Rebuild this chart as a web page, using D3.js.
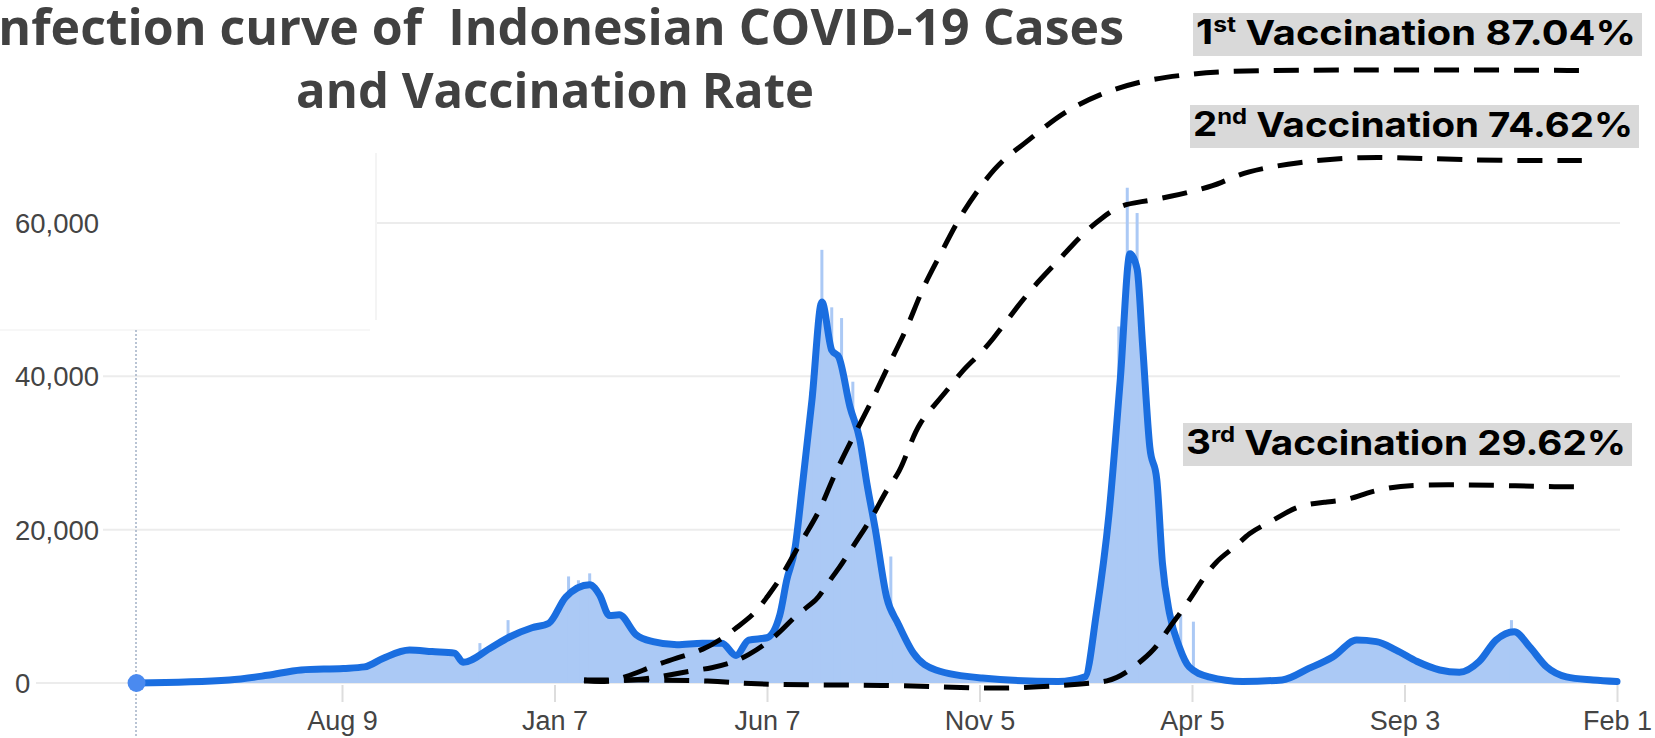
<!DOCTYPE html>
<html><head><meta charset="utf-8">
<script src="https://cdn.jsdelivr.net/npm/d3@7"></script>
<style>
html,body{margin:0;padding:0;background:#fff;overflow:hidden}
svg{display:block}
</style></head><body>
<svg id="chart" width="1655" height="738"></svg>
<script>
// Daily confirmed cases in Indonesia, 7-day average
const caseDates = ["2020-03-16","2020-05-21","2020-06-17","2020-07-11","2020-08-10","2020-08-25","2020-09-07","2020-09-26","2020-10-12","2020-10-28","2020-11-03","2020-11-22","2020-12-06","2020-12-22","2021-01-03","2021-01-15","2021-02-01","2021-02-08","2021-02-15","2021-02-22","2021-03-06","2021-03-18","2021-04-04","2021-04-22","2021-05-06","2021-05-16","2021-05-25","2021-06-07","2021-06-16","2021-06-21","2021-06-27","2021-07-02","2021-07-09","2021-07-16","2021-07-23","2021-07-28","2021-08-05","2021-08-12","2021-08-17","2021-08-23","2021-08-31","2021-09-08","2021-09-19","2021-10-05","2021-11-07","2021-12-31","2022-01-19","2022-01-27","2022-02-05","2022-02-13","2022-02-20","2022-02-25","2022-03-01","2022-03-06","2022-03-11","2022-03-15","2022-03-20","2022-03-27","2022-04-03","2022-04-17","2022-05-11","2022-06-08","2022-06-27","2022-07-14","2022-07-31","2022-08-14","2022-08-28","2022-09-12","2022-09-28","2022-10-12","2022-10-26","2022-11-07","2022-11-20","2022-12-01","2022-12-13","2022-12-27","2023-01-15","2023-02-01"];
const caseAvg = [0,400,1000,1700,1900,2100,3200,4300,4100,3900,2700,4500,6000,7200,7800,11200,12800,11500,8800,8900,6300,5400,5000,5200,5200,3600,5600,5900,8800,13400,17700,25500,37000,49700,43400,42500,36000,31700,26000,20000,11200,7800,3900,1700,650,200,800,9000,22000,39500,56000,54000,43800,30800,26500,15600,9100,4700,2100,800,200,400,1900,3400,5600,5400,4300,2800,1700,1400,2800,5600,6700,4700,2100,800,400,200];

// Single-day reports standing above the average
const spikeDates = ["2020-11-15","2020-12-05","2021-01-17","2021-01-24","2021-02-01","2021-07-08","2021-07-16","2021-07-23","2021-07-30","2021-08-07","2021-08-25","2021-09-03","2022-02-12","2022-02-18","2022-02-25","2022-03-28","2022-04-06","2022-11-18"];
const spikeValues = [5200,8200,13900,13400,14300,38000,56500,49000,47600,39300,19000,16500,46500,64600,61300,8900,8000,8200];

// Cumulative vaccination coverage, % of target population
const dose1Dates = ["2021-01-28","2021-02-11","2021-02-27","2021-03-13","2021-03-26","2021-04-11","2021-04-22","2021-05-05","2021-05-17","2021-05-30","2021-06-07","2021-06-16","2021-06-25","2021-07-05","2021-07-15","2021-07-23","2021-08-06","2021-08-21","2021-09-02","2021-09-15","2021-09-25","2021-10-09","2021-10-23","2021-11-17","2021-12-03","2021-12-21","2022-01-05","2022-01-28","2022-02-27","2022-03-28","2022-04-27","2022-06-20","2022-08-30","2022-11-09","2023-01-07"];
const dose1Pct = [2.98,2.57,3.39,4.5,5.46,6.43,7.12,8.5,10.29,12.22,14.43,16.77,19.94,23.25,26.46,30.56,36.1,41.6,46.7,51.6,56.9,61.9,67.4,74.1,76.35,79.2,81.4,83.7,85.6,86.4,86.96,87.1,87.1,87.1,87.04];

const dose2Dates = ["2021-01-28","2021-03-01","2021-03-23","2021-04-13","2021-04-29","2021-05-13","2021-05-25","2021-06-07","2021-06-18","2021-06-29","2021-07-13","2021-07-18","2021-07-29","2021-08-04","2021-08-15","2021-08-23","2021-09-01","2021-09-09","2021-09-16","2021-09-23","2021-10-04","2021-10-15","2021-10-24","2021-11-03","2021-11-14","2021-11-30","2021-12-14","2021-12-30","2022-01-10","2022-01-22","2022-01-31","2022-02-13","2022-02-27","2022-03-20","2022-04-10","2022-04-26","2022-05-12","2022-06-19","2022-08-03","2022-09-17","2022-11-09","2023-01-07"];
const dose2Pct = [2.84,2.84,3.39,4.22,4.63,5.32,6.43,8.08,9.88,12.22,14.0,15.8,18.6,20.5,23.7,26.2,29.6,31.5,35.1,38.4,40.9,43.4,45.7,47.5,49.8,54.0,57.4,60.6,63.0,65.3,66.7,68.5,68.9,69.6,70.6,71.5,73.1,74.4,75.2,74.9,74.6,74.62];

const dose3Dates = ["2021-01-28","2021-03-15","2021-04-29","2021-05-25","2021-06-30","2021-09-09","2021-11-12","2021-12-18","2022-01-15","2022-02-05","2022-02-17","2022-03-01","2022-03-11","2022-03-20","2022-03-31","2022-04-10","2022-04-22","2022-05-06","2022-05-15","2022-05-29","2022-06-10","2022-06-21","2022-07-08","2022-07-25","2022-08-07","2022-08-23","2022-09-07","2022-10-21","2022-11-21","2022-12-20","2023-01-08"];
const dose3Pct = [2.98,2.98,2.9,2.43,2.29,2.29,1.74,2.01,2.43,2.7,3.94,5.74,7.53,10.29,13.04,16.1,19.5,21.3,23.25,24.6,25.95,27.1,27.5,27.8,28.8,29.5,29.9,29.9,29.75,29.62,29.62];

const doseOrdinals = ["1", "2", "3"];
const doseSuffixes = ["st", "nd", "rd"];

const yTickValues = [0, 20000, 40000, 60000];
const xTickDates = ["2020-08-09","2021-01-07","2021-06-07","2021-11-05","2022-04-05","2022-09-03","2023-02-01"];
const xTickLabels = ["Aug 9","Jan 7","Jun 7","Nov 5","Apr 5","Sep 3","Feb 1"];
const titleLines = ["Infection curve of  Indonesian COVID-19 Cases", "and Vaccination Rate"];

const parse = d3.utcParse("%Y-%m-%d");
const svg = d3.select("#chart");

const x = d3.scaleUtc()
  .domain([parse("2020-08-09"), parse("2023-02-01")])
  .range([342, 1617]);
const y = d3.scaleLinear().domain([0, 60000]).range([683, 223]);
const yVacc = d3.scaleLinear().domain([0, 100]).range([701.6, -23.5]);

const cases = caseDates.map((d, i) => ({date: parse(d), value: caseAvg[i]}));
const spikes = spikeDates.map((d, i) => ({date: parse(d), value: spikeValues[i]}));
const doses = [
  {dates: dose1Dates, pct: dose1Pct},
  {dates: dose2Dates, pct: dose2Pct},
  {dates: dose3Dates, pct: dose3Pct}
].map(s => s.dates.map((d, i) => ({date: parse(d), value: s.pct[i]})));

// horizontal gridlines
const gridStart = v => v === 0 ? 36 : (v === 60000 ? 376 : 103);
svg.append("g").selectAll("line").data(yTickValues).join("line")
  .attr("x1", gridStart).attr("x2", 1620)
  .attr("y1", d => y(d)).attr("y2", d => y(d))
  .attr("stroke", "#ececec").attr("stroke-width", 2);

// faint edges of the inset panel
svg.append("line").attr("x1", 376).attr("x2", 376).attr("y1", 153).attr("y2", 320)
  .attr("stroke", "#f4f4f4").attr("stroke-width", 2);
svg.append("line").attr("x1", 0).attr("x2", 370).attr("y1", 330).attr("y2", 330)
  .attr("stroke", "#f7f7f7").attr("stroke-width", 2);

// dotted vertical at the series start
svg.append("line").attr("x1", 136).attr("x2", 136).attr("y1", 330).attr("y2", 738)
  .attr("stroke", "#a3b1c6").attr("stroke-width", 1.5).attr("stroke-dasharray", "2,2");

// x axis
const xAxis = d3.axisBottom(x)
  .tickValues(xTickDates.map(parse))
  .tickFormat((d, i) => xTickLabels[i])
  .tickSize(17).tickPadding(9);
const gx = svg.append("g").attr("transform", "translate(0,685)").call(xAxis);
gx.select(".domain").remove();
gx.selectAll(".tick line").attr("stroke", "#dddddd").attr("stroke-width", 2);
gx.selectAll(".tick text")
  .attr("fill", "#444").style("font-family", "'Liberation Sans', Arial, sans-serif")
  .style("font-size", "27px");

// y labels
svg.append("g").selectAll("text").data(yTickValues).join("text")
  .attr("x", 15).attr("y", d => y(d)).attr("dy", "0.36em")
  .attr("fill", "#444").style("font-family", "'Liberation Sans', Arial, sans-serif")
  .style("font-size", "27.5px")
  .text(d => d3.format(",")(d));

// daily cases fill
const area = d3.area().x(d => x(d.date)).y0(y(0)).y1(d => y(d.value)).curve(d3.curveMonotoneX);
svg.append("path").datum(cases).attr("d", area).attr("fill", "#abc9f5");
svg.append("g").selectAll("rect").data(spikes).join("rect")
  .attr("x", d => x(d.date) - 1.5).attr("width", 3)
  .attr("y", d => y(d.value)).attr("height", d => y(0) - y(d.value))
  .attr("fill", "#abc9f5");

// 7-day average line
const line = d3.line().x(d => x(d.date)).y(d => y(d.value)).curve(d3.curveMonotoneX);
svg.append("path").datum(cases).attr("d", line)
  .attr("fill", "none").attr("stroke", "#1a6ee0").attr("stroke-width", 7)
  .attr("stroke-linejoin", "round").attr("stroke-linecap", "round");
svg.append("circle").attr("cx", x(cases[0].date)).attr("cy", y(cases[0].value))
  .attr("r", 9).attr("fill", "#4a8af0");

// vaccination curves
const vLine = d3.line().x(d => x(d.date)).y(d => yVacc(d.value)).curve(d3.curveBasis);
svg.append("g").selectAll("path").data(doses).join("path")
  .attr("d", vLine).attr("fill", "none").attr("stroke", "#000")
  .attr("stroke-width", 5).attr("stroke-dasharray", "25,15");

// title
const title = svg.append("g").attr("fill", "#414141")
  .style("font-family", "'Open Sans', sans-serif").style("font-weight", 700);
title.append("text").attr("xml:space", "preserve").style("white-space", "pre")
  .attr("x", 1124).attr("y", 45).attr("text-anchor", "end")
  .style("font-size", "50px").text(titleLines[0]);
title.append("text").attr("x", 555).attr("y", 108).attr("text-anchor", "middle")
  .style("font-size", "49px").text(titleLines[1]);

// dose labels
const boxes = [{x: 1193, y: 13}, {x: 1190, y: 105}, {x: 1183, y: 423}];
const fmt = d3.format(".2f");
doses.forEach((s, i) => {
  const b = boxes[i];
  const g = svg.append("g");
  g.append("rect").attr("x", b.x).attr("y", b.y).attr("width", 449).attr("height", 43).attr("fill", "#d9d9d9");
  const t = g.append("text").attr("x", b.x + 3).attr("y", b.y + 31)
    .attr("fill", "#000").style("font-family", "Inter, 'Liberation Sans', sans-serif")
    .style("font-weight", 700).style("font-size", "34px")
    .attr("textLength", 440).attr("lengthAdjust", "spacingAndGlyphs");
  t.append("tspan").text(doseOrdinals[i]);
  t.append("tspan").attr("dy", "-0.55em").style("font-size", "21px").text(doseSuffixes[i]);
  t.append("tspan").attr("dy", "0.37em").text(" Vaccination " + fmt(s[s.length - 1].value) + "%");
});
</script>
</body></html>
